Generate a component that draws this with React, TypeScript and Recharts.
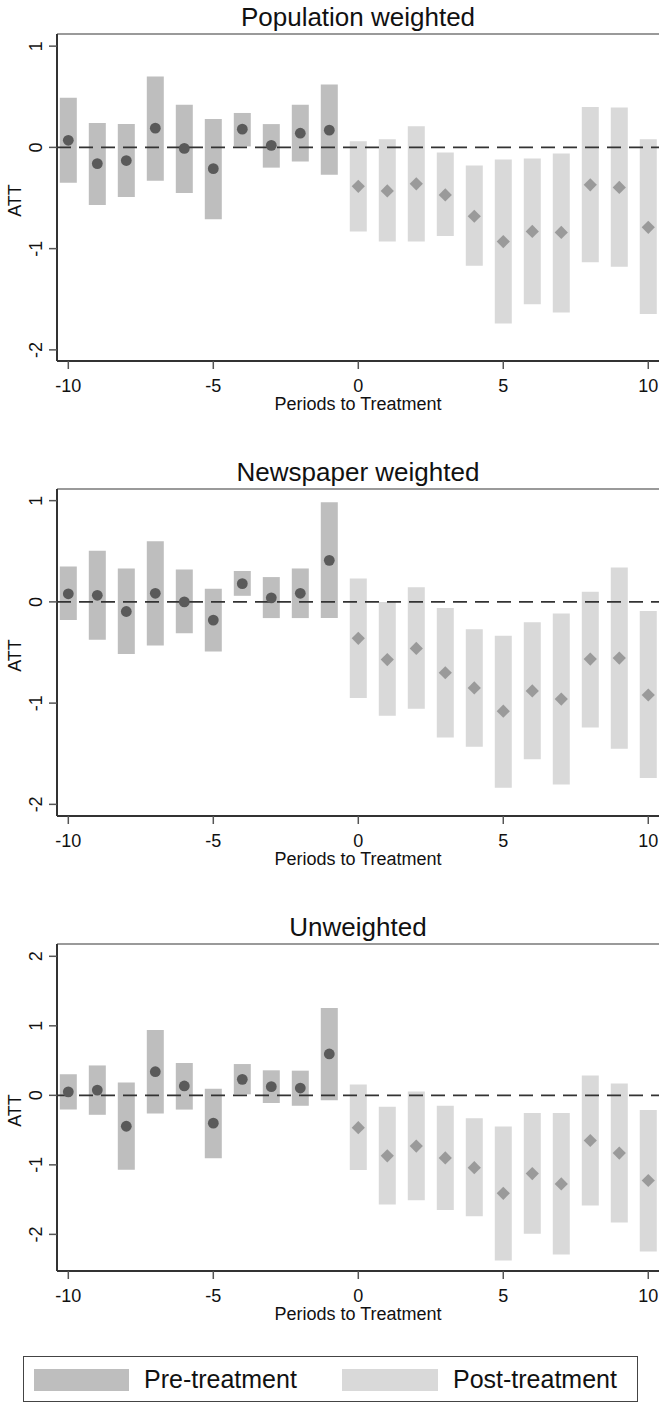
import React from 'react'
import {
  Bar,
  Cell,
  ComposedChart,
  ReferenceLine,
  Scatter,
  XAxis,
  YAxis,
} from 'recharts'

const periods = [-10, -9, -8, -7, -6, -5, -4, -3, -2, -1, 0, 1, 2, 3, 4, 5, 6, 7, 8, 9, 10]

// Population weighted
const popEst = [0.07, -0.16, -0.13, 0.19, -0.01, -0.21, 0.18, 0.02, 0.14, 0.17, -0.385, -0.43, -0.36, -0.47, -0.68, -0.93, -0.83, -0.84, -0.37, -0.395, -0.79]
const popLow = [-0.35, -0.57, -0.49, -0.33, -0.45, -0.71, 0.01, -0.2, -0.14, -0.27, -0.83, -0.93, -0.93, -0.875, -1.17, -1.74, -1.55, -1.63, -1.135, -1.18, -1.645]
const popHigh = [0.49, 0.24, 0.23, 0.7, 0.42, 0.28, 0.34, 0.23, 0.42, 0.62, 0.06, 0.08, 0.21, -0.05, -0.18, -0.12, -0.11, -0.06, 0.4, 0.395, 0.08]

// Newspaper weighted
const newsEst = [0.08, 0.065, -0.095, 0.085, 0.0, -0.18, 0.18, 0.04, 0.085, 0.41, -0.36, -0.57, -0.46, -0.7, -0.85, -1.08, -0.88, -0.96, -0.565, -0.555, -0.92]
const newsLow = [-0.18, -0.375, -0.515, -0.43, -0.31, -0.49, 0.06, -0.16, -0.16, -0.16, -0.95, -1.125, -1.055, -1.34, -1.43, -1.835, -1.555, -1.805, -1.24, -1.45, -1.74]
const newsHigh = [0.35, 0.505, 0.33, 0.6, 0.32, 0.13, 0.305, 0.245, 0.33, 0.985, 0.23, 0.0, 0.145, -0.06, -0.27, -0.335, -0.2, -0.115, 0.1, 0.34, -0.09]

// Unweighted
const unwEst = [0.05, 0.075, -0.445, 0.34, 0.135, -0.4, 0.23, 0.125, 0.105, 0.595, -0.465, -0.87, -0.73, -0.9, -1.04, -1.41, -1.125, -1.275, -0.65, -0.83, -1.225]
const unwLow = [-0.205, -0.28, -1.07, -0.26, -0.205, -0.905, 0.015, -0.11, -0.15, -0.07, -1.075, -1.57, -1.51, -1.65, -1.74, -2.375, -1.99, -2.29, -1.585, -1.83, -2.245]
const unwHigh = [0.305, 0.43, 0.185, 0.94, 0.465, 0.095, 0.45, 0.36, 0.355, 1.255, 0.155, -0.165, 0.055, -0.15, -0.33, -0.45, -0.255, -0.255, 0.285, 0.17, -0.21]

const FONT = '"Liberation Sans", Arial, Helvetica, sans-serif'
const PRE_BAR = '#bebebe'
const POST_BAR = '#d9d9d9'
const PRE_DOT = '#5a5a5a'
const POST_DOT = '#9a9a9a'

type Row = { period: number; range: [number, number]; est: number }

function buildRows(est: number[], low: number[], high: number[]): Row[] {
  return periods.map((p, i) => ({ period: p, range: [low[i], high[i]], est: est[i] }))
}

const YTick = (props: any) => {
  const { x, y, payload } = props
  const tx = x - 5
  return (
    <text
      x={tx}
      y={y}
      transform={`rotate(-90, ${tx}, ${y})`}
      textAnchor="middle"
      fontSize={18}
      fontFamily={FONT}
      fill="#111"
    >
      {payload.value}
    </text>
  )
}

const Dot = (props: any) => <circle cx={props.cx} cy={props.cy} r={5.4} fill={PRE_DOT} />

const Diamond = (props: any) => {
  const { cx, cy } = props
  const s = 6.6
  return (
    <polygon
      points={`${cx},${cy - s} ${cx + s},${cy} ${cx},${cy + s} ${cx - s},${cy}`}
      fill={POST_DOT}
    />
  )
}

function Panel({
  title,
  rows,
  yDomain,
  yTicks,
}: {
  title: string
  rows: Row[]
  yDomain: [number, number]
  yTicks: number[]
}) {
  const pre = rows.filter((r) => r.period < 0)
  const post = rows.filter((r) => r.period >= 0)
  return (
    <div style={{ position: 'relative', width: 659, height: 455 }}>
      <div
        style={{
          position: 'absolute',
          left: 0,
          width: 716,
          top: 4,
          textAlign: 'center',
          fontFamily: FONT,
          fontSize: 26,
          lineHeight: '26px',
          color: '#111',
        }}
      >
        {title}
      </div>
      <ComposedChart
        width={659}
        height={455}
        data={rows}
        margin={{ top: 34, right: 0, left: 0, bottom: 34 }}
        style={{ fontFamily: FONT }}
      >
        <XAxis
          dataKey="period"
          type="number"
          domain={[-10.39, 10.37]}
          ticks={[-10, -5, 0, 5, 10]}
          allowDataOverflow
          height={60}
          tickSize={8}
          tickMargin={10}
          axisLine={{ stroke: '#333', strokeWidth: 2 }}
          tickLine={{ stroke: '#555', strokeWidth: 1.5 }}
          tick={{ fontSize: 18, fill: '#111', fontFamily: FONT }}
          label={(p: any) => {
            const vb = p.viewBox
            return (
              <text
                x={vb.x + vb.width / 2}
                y={vb.y + 49}
                textAnchor="middle"
                fontSize={18}
                fontFamily={FONT}
                fill="#111"
              >
                Periods to Treatment
              </text>
            )
          }}
        />
        <YAxis
          type="number"
          domain={yDomain}
          ticks={yTicks}
          allowDataOverflow
          width={57}
          tickSize={8}
          tickMargin={2}
          axisLine={{ stroke: '#333', strokeWidth: 2 }}
          tickLine={{ stroke: '#555', strokeWidth: 1.5 }}
          tick={<YTick />}
          label={(p: any) => {
            const vb = p.viewBox
            const cx = 21
            const cy = vb.y + vb.height / 2 + 3
            return (
              <text
                x={cx}
                y={cy}
                transform={`rotate(-90, ${cx}, ${cy})`}
                textAnchor="middle"
                fontSize={18}
                fontFamily={FONT}
                fill="#111"
              >
                ATT
              </text>
            )
          }}
        />
        <Bar dataKey="range" barSize={17} isAnimationActive={false}>
          {rows.map((r) => (
            <Cell key={r.period} fill={r.period < 0 ? PRE_BAR : POST_BAR} />
          ))}
        </Bar>
        <ReferenceLine y={yDomain[1]} stroke="#9a9a9a" strokeWidth={2} />
        <ReferenceLine y={0} stroke="#333" strokeWidth={1.6} strokeDasharray="14 8" />
        <Scatter data={pre} dataKey="est" shape={<Dot />} isAnimationActive={false} />
        <Scatter data={post} dataKey="est" shape={<Diamond />} isAnimationActive={false} />
      </ComposedChart>
    </div>
  )
}

function LegendBox() {
  const text: React.CSSProperties = {
    position: 'absolute',
    top: 9,
    fontFamily: FONT,
    fontSize: 25,
    lineHeight: '26px',
    color: '#111',
  }
  return (
    <div
      style={{
        position: 'absolute',
        left: 23,
        top: 1356,
        width: 615,
        height: 46,
        border: '1.5px solid #444',
        boxSizing: 'border-box',
        background: '#fff',
      }}
    >
      <div style={{ position: 'absolute', left: 10, top: 12, width: 95, height: 22, background: PRE_BAR }} />
      <div style={{ ...text, left: 120 }}>Pre-treatment</div>
      <div style={{ position: 'absolute', left: 318, top: 12, width: 96, height: 22, background: POST_BAR }} />
      <div style={{ ...text, left: 429 }}>Post-treatment</div>
    </div>
  )
}

export default function App() {
  const popRows = buildRows(popEst, popLow, popHigh)
  const newsRows = buildRows(newsEst, newsLow, newsHigh)
  const unwRows = buildRows(unwEst, unwLow, unwHigh)
  return (
    <div
      style={{
        position: 'absolute',
        left: 0,
        top: 0,
        width: 659,
        height: 1403,
        background: '#fff',
        overflow: 'hidden',
      }}
    >
      <div style={{ position: 'absolute', top: 0, left: 0 }}>
        <Panel title="Population weighted" rows={popRows} yDomain={[-2.11, 1.12]} yTicks={[-2, -1, 0, 1]} />
      </div>
      <div style={{ position: 'absolute', top: 455, left: 0 }}>
        <Panel title="Newspaper weighted" rows={newsRows} yDomain={[-2.115, 1.115]} yTicks={[-2, -1, 0, 1]} />
      </div>
      <div style={{ position: 'absolute', top: 910, left: 0 }}>
        <Panel title="Unweighted" rows={unwRows} yDomain={[-2.527, 2.177]} yTicks={[-2, -1, 0, 1, 2]} />
      </div>
      <LegendBox />
    </div>
  )
}
